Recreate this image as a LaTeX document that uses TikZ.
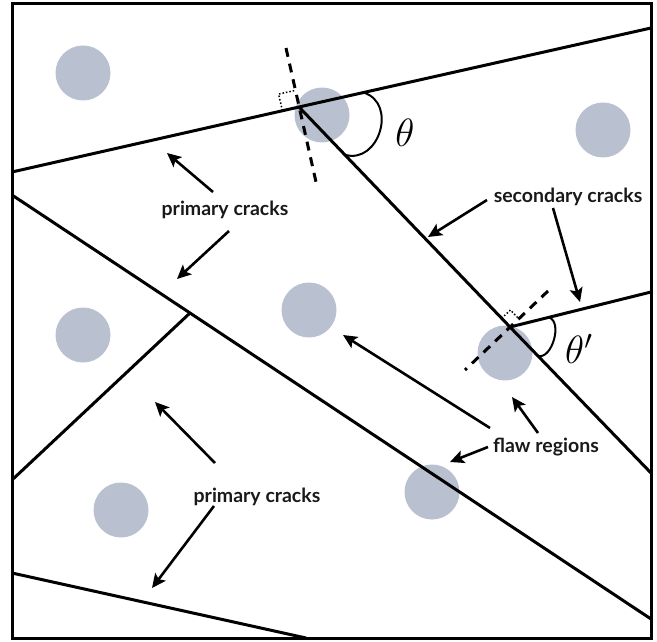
\documentclass[tikz,border=0pt]{standalone}
\usepackage{graphicx}
\usepackage{fontspec}
\setmainfont{Lato}
\usetikzlibrary{arrows.meta}
\definecolor{flawgray}{RGB}{185,192,207}
\begin{document}
\begin{tikzpicture}[x=1pt,y=-1pt,
  crack/.style={line width=3pt},
  ptr/.style={line width=2.6pt,-{Stealth[length=14pt,width=13pt,inset=3pt]}},
  flaw/.style={circle,fill=flawgray,minimum size=55pt,inner sep=0pt},
  lbl/.style={font=\fontsize{19.5}{22}\selectfont\bfseries,inner sep=1pt,text=black!90},
  normalline/.style={line width=3pt,dash pattern=on 9pt off 7pt},
  rightang/.style={line width=1.5pt,dotted},
  anglearc/.style={line width=2pt},
  greek/.style={font=\fontsize{20}{24}\selectfont,inner sep=0pt}]
\useasboundingbox (0,0) rectangle (657,642);
% frame
\draw[line width=3pt] (12,4) rectangle (651,638);
% flaw regions
\node[flaw] (f1) at (83,73) {};
\node[flaw] (f2) at (322,115) {};
\node[flaw] (f3) at (603,130) {};
\node[flaw] (f4) at (309,310) {};
\node[flaw] (f5) at (83,335) {};
\node[flaw] (f6) at (505,353) {};
\node[flaw] (f7) at (121,510) {};
\node[flaw] (f8) at (432,492) {};
% crack end points
\coordinate (tL) at (12,172);
\coordinate (tR) at (651,28);
\coordinate (j1) at (299,107);
\coordinate (j2) at (510,327);
\coordinate (sR) at (651,473);
\coordinate (s2R) at (651,292);
\coordinate (mL) at (12,195);
\coordinate (mR) at (651,619);
\coordinate (j3) at (190,313);
\coordinate (bL) at (12,480);
\coordinate (lL) at (12,573);
\coordinate (lB) at (306,638);
% cracks
\draw[crack] (tL) -- (j1) -- (tR);
\draw[crack] (j1) -- (j2) -- (sR);
\draw[crack] (j2) -- (s2R);
\draw[crack] (mL) -- (j3) -- (mR);
\draw[crack] (j3) -- (bL);
\draw[crack] (lL) -- (lB);
% normals
\coordinate (n1a) at (286,48);
\coordinate (n1b) at (316,182);
\draw[normalline] (n1a) -- (n1b);
\coordinate (n2a) at (548,291);
\coordinate (n2b) at (465,370);
\draw[normalline] (n2a) -- (n2b);
% right angle marks
\coordinate (r1a) at (282.4,110.7);
\coordinate (r1b) at (278.6,94.1);
\coordinate (r1c) at (295.3,90.4);
\draw[rightang] (r1a) -- (r1b) -- (r1c);
\coordinate (r2a) at (501.7,318.3);
\coordinate (r2b) at (510.4,310);
\coordinate (r2c) at (518.7,318.7);
\draw[rightang] (r2a) -- (r2b) -- (r2c);
% angle arcs
\coordinate (a1s) at (363.4,92.5);
\coordinate (a1e) at (344.7,154.7);
\draw[anglearc] (a1s) .. controls (398,103) and (379,165) .. (a1e);
\coordinate (a2s) at (548.8,317.4);
\coordinate (a2e) at (537.7,355.9);
\draw[anglearc] (a2s) .. controls (563,321.6) and (552,360) .. (a2e);
\node[greek] (th1) at (405,133) {\scalebox{1.9}{$\theta$}};
\node[greek] (th2) at (579,349) {\scalebox{1.9}{$\theta'$}};
% labels
\node[lbl] (pc1) at (225,210) {primary cracks};
\node[lbl] (sc) at (568,197) {secondary cracks};
\node[lbl] (fr) at (546,447) {flaw regions};
\node[lbl] (pc2) at (257,497) {primary cracks};
% arrows
\coordinate (p1t) at (213,192); \coordinate (p1h) at (167,153);
\coordinate (p2t) at (229,231); \coordinate (p2h) at (177,279);
\coordinate (s1t) at (487,200); \coordinate (s1h) at (428,237);
\coordinate (s2t) at (553,208); \coordinate (s2h) at (580,302);
\coordinate (q1t) at (538,433); \coordinate (q1h) at (512,397);
\coordinate (q2t) at (488,447); \coordinate (q2h) at (450,462);
\coordinate (q3t) at (490,428); \coordinate (q3h) at (343,335);
\coordinate (p3t) at (215,463); \coordinate (p3h) at (155,402);
\coordinate (p4t) at (214,506); \coordinate (p4h) at (152,588);
\draw[ptr] (p1t) -- (p1h);
\draw[ptr] (p2t) -- (p2h);
\draw[ptr] (s1t) -- (s1h);
\draw[ptr] (s2t) -- (s2h);
\draw[ptr] (q1t) -- (q1h);
\draw[ptr] (q2t) -- (q2h);
\draw[ptr] (q3t) -- (q3h);
\draw[ptr] (p3t) -- (p3h);
\draw[ptr] (p4t) -- (p4h);
\end{tikzpicture}
\end{document}
